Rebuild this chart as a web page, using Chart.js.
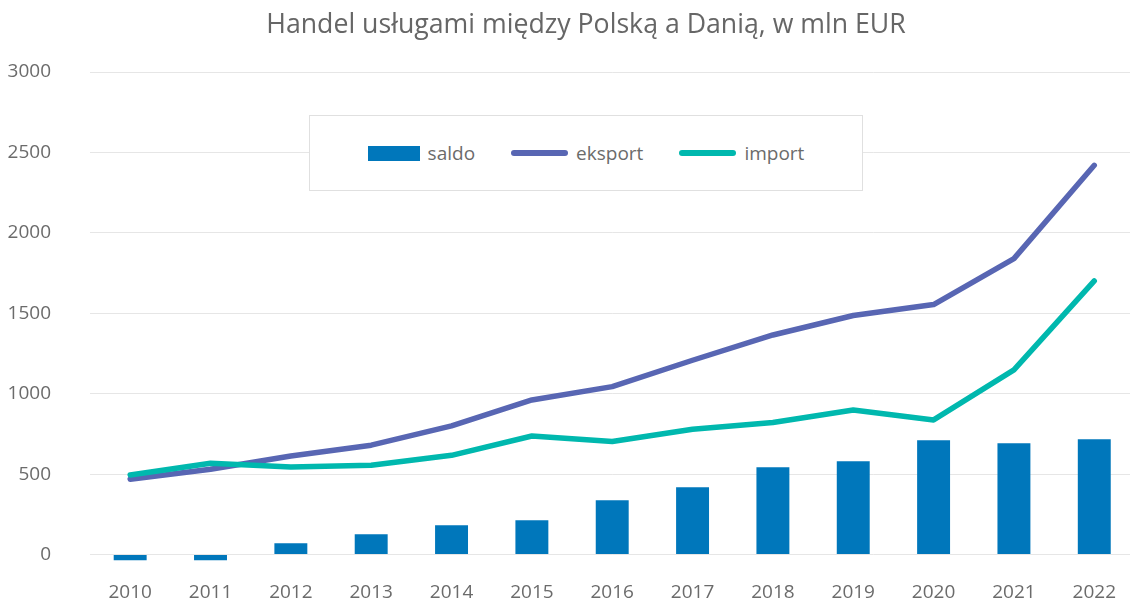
<!DOCTYPE html>
<html lang="pl">
<head>
<meta charset="utf-8">
<title>Handel usługami między Polską a Danią</title>
<script src="https://cdn.jsdelivr.net/npm/chart.js@4.4.1/dist/chart.umd.min.js"></script>
<style>
  html, body { margin: 0; padding: 0; background: #fff; overflow: hidden; }
  #wrap { position: relative; width: 1136px; height: 601px; }
  #title {
    position: absolute; left: 0; top: 7px; width: 1172px; text-align: center;
    font: 26.7px/32px "Open Sans", sans-serif; color: #666; white-space: nowrap;
  }
  #legend {
    position: absolute; left: 309px; top: 115px; width: 554px; height: 76px;
    box-sizing: border-box; border: 1px solid #e0e0e0; background: #fff;
    display: flex; align-items: center; justify-content: center;
    font: 19px "Open Sans", sans-serif; color: #6b6b6b;
  }
  #legend .item { display: flex; align-items: center; margin: 0 18px; }
  #legend .sw { margin-right: 8px; }
</style>
</head>
<body>
<div id="wrap">
  <canvas id="chart" width="1136" height="601"></canvas>
  <div id="title">Handel usługami między Polską a Danią, w mln EUR</div>
  <div id="legend"></div>
</div>
<script>
  // data (mln EUR)
  const years = ['2010','2011','2012','2013','2014','2015','2016','2017','2018','2019','2020','2021','2022'];
  const saldo = [-35, -35, 70, 126, 182, 213, 338, 418, 543, 580, 711, 692, 717];
  const eksport = [468, 530, 613, 680, 800, 961, 1044, 1208, 1365, 1486, 1554, 1840, 2420];
  const importVals = [495, 568, 545, 555, 617, 737, 703, 779, 821, 899, 837, 1148, 1701];
  const yTicks = [0, 500, 1000, 1500, 2000, 2500, 3000];

  const textColor = '#6b6b6b';
  const font = { family: '"Open Sans", sans-serif', size: 19 };

  const datasets = [
    {
      type: 'bar', label: 'saldo', data: saldo,
      backgroundColor: '#0077bb', borderWidth: 0,
      barPercentage: 0.41, categoryPercentage: 1, order: 3
    },
    {
      type: 'line', label: 'eksport', data: eksport,
      borderColor: '#5866b3', borderWidth: 5.5, pointRadius: 0, tension: 0,
      borderCapStyle: 'round', borderJoinStyle: 'round', fill: false, order: 2
    },
    {
      type: 'line', label: 'import', data: importVals,
      borderColor: '#00b8ae', borderWidth: 5.5, pointRadius: 0, tension: 0,
      borderCapStyle: 'round', borderJoinStyle: 'round', fill: false, order: 1
    }
  ];

  const chart = new Chart(document.getElementById('chart').getContext('2d'), {
    data: { labels: years, datasets: datasets },
    options: {
      responsive: false,
      animation: false,
      layout: { padding: { top: 72, bottom: 0, left: 0, right: 0 } },
      plugins: {
        legend: { display: false },
        tooltip: { enabled: false },
        title: { display: false }
      },
      scales: {
        x: {
          afterFit: s => { s.height = 40; },
          grid: { display: false, drawTicks: false },
          border: { display: false },
          ticks: { color: textColor, font: font, padding: 20, maxRotation: 0 }
        },
        y: {
          min: -40, max: 3000,
          afterBuildTicks: s => { s.ticks = yTicks.map(v => ({ value: v })); },
          afterFit: s => { s.width = 90; s.paddingTop = 0; s.paddingBottom = 0; },
          grid: { color: '#e6e6e6', lineWidth: 1, drawTicks: false },
          border: { display: false },
          ticks: { color: textColor, font: font, padding: 39, callback: v => String(v) }
        }
      }
    }
  });

  // html legend built from the datasets
  const legend = document.getElementById('legend');
  chart.data.datasets.forEach(ds => {
    const item = document.createElement('div');
    item.className = 'item';
    const sw = document.createElement('span');
    sw.className = 'sw';
    if (ds.type === 'bar') {
      sw.style.cssText = 'display:inline-block;width:52px;height:15px;background:' + ds.backgroundColor;
    } else {
      sw.style.cssText = 'display:inline-block;width:57px;height:6px;border-radius:3px;background:' + ds.borderColor;
    }
    const txt = document.createElement('span');
    txt.textContent = ds.label;
    item.appendChild(sw);
    item.appendChild(txt);
    legend.appendChild(item);
  });
</script>
</body>
</html>
